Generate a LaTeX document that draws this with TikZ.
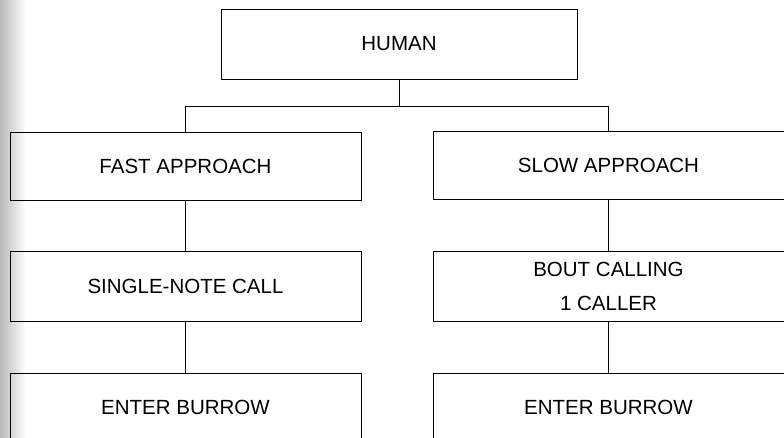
\documentclass[tikz,border=0pt]{standalone}
\usepackage{fontspec}
\setmainfont{Liberation Sans}
\begin{document}
\begin{tikzpicture}[x=1pt,y=-1pt,
  box/.style={draw, line width=0.9pt, minimum width=351pt, minimum height=68pt,
    inner sep=0pt, align=center, font=\fontsize{20.5}{34}\selectfont},
  link/.style={draw, line width=0.9pt}]
\useasboundingbox (0,0) rectangle (784,438);
\clip (0,0) rectangle (784,438);
\shade[left color=gray!55, right color=white] (0,0) rectangle (26,438);
\node[box, minimum width=356pt, minimum height=70pt] (human) at (399,44) {HUMAN};
\node[box] (fast) at (185.5,166) {FAST APPROACH};
\node[box, minimum height=70pt] (single) at (185.5,286) {SINGLE-NOTE CALL};
\node[box] (enter1) at (185.5,407) {ENTER BURROW};
\node[box] (slow) at (608.5,165) {SLOW APPROACH};
\node[box, minimum height=70pt] (bout) at (608.5,286) {BOUT CALLING\\1 CALLER};
\node[box] (enter2) at (608.5,407) {ENTER BURROW};
\coordinate (hbar) at ([yshift=-27pt]human.south);
\draw[link] (human.south) -- (hbar);
\draw[link] (fast.north) |- (hbar) -| (slow.north);
\draw[link] (fast.south) -- (single.north);
\draw[link] (single.south) -- (enter1.north);
\draw[link] (slow.south) -- (bout.north);
\draw[link] (bout.south) -- (enter2.north);
\end{tikzpicture}
\end{document}
